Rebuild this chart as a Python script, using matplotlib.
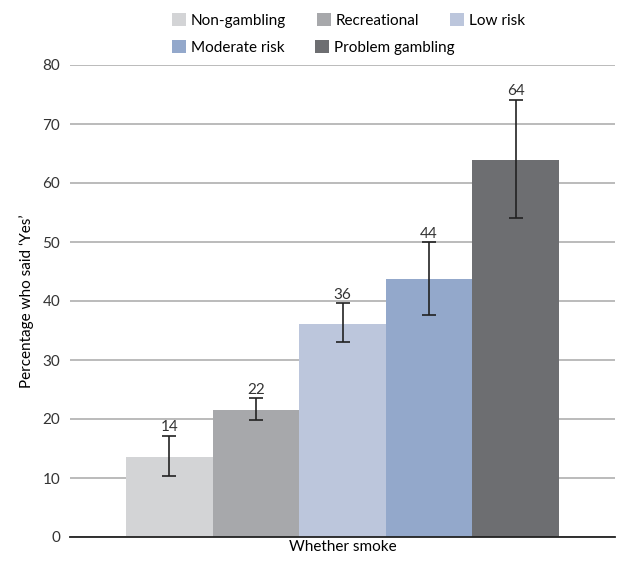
import matplotlib
matplotlib.use('Agg')
import matplotlib.pyplot as plt
import numpy as np

plt.rcParams['font.family'] = ['Lato', 'DejaVu Sans']

# Dados
grupos = ['Non-gambling', 'Recreational', 'Low risk', 'Moderate risk', 'Problem gambling']
valores = [13.6, 21.5, 36.1, 43.7, 63.9]
erro_baixo = [10.3, 19.9, 33.0, 37.6, 54.1]
erro_alto = [17.2, 23.5, 39.6, 50.0, 74.1]
rotulos = ['14', '22', '36', '44', '64']
cores = ['#d3d4d6', '#a7a8ab', '#bcc6dc', '#93a8cb', '#6d6e71']

fig = plt.figure(figsize=(6.24, 5.61), dpi=100)
ax = fig.add_axes([70 / 624, 1 - 537 / 561, 545 / 624, (537 - 65) / 561])

x = np.arange(len(grupos))
barras = ax.bar(x, valores, width=1.0, color=cores, label=grupos, zorder=2)

yerr = [np.array(valores) - np.array(erro_baixo), np.array(erro_alto) - np.array(valores)]
ax.errorbar(x, valores, yerr=yerr, fmt='none', ecolor='#222222', elinewidth=1.2,
            capsize=5, capthick=1.2, zorder=3)

for xi, topo, txt in zip(x, erro_alto, rotulos):
    ax.annotate(txt, (xi, topo), xytext=(0, 1), textcoords='offset points',
                ha='center', va='bottom', fontsize=11, color='#333333')

ax.set_xlim(-0.5 - 0.645, 4.5 + 0.645)
ax.set_ylim(0, 80)
ax.set_yticks(range(0, 81, 10))
ax.set_xticks([])
ax.grid(axis='y', color='#b5b5b5', linewidth=1.3, zorder=0)
ax.set_axisbelow(True)
for s in ['top', 'right', 'left']:
    ax.spines[s].set_visible(False)
ax.spines['bottom'].set_color('#222222')
ax.spines['bottom'].set_linewidth(1.3)
ax.spines['bottom'].set_zorder(4)
ax.tick_params(axis='y', length=0, pad=7, labelsize=11, labelcolor='#333333')

ax.set_ylabel('Percentage who said ‘Yes’', fontsize=11, labelpad=6)
ax.set_xlabel('Whether smoke', fontsize=11, labelpad=2)

# legenda em duas linhas (3 + 2 itens), cada uma como legenda própria
opts = dict(loc='upper left', frameon=False, fontsize=11, handlelength=0.9,
            handleheight=0.9, handletextpad=0.35, columnspacing=2.0,
            borderpad=0, borderaxespad=0)
fig.legend(barras[:3], grupos[:3], ncol=3,
           bbox_to_anchor=(172 / 624, 1 - 13 / 561), **opts)
fig.legend(barras[3:], grupos[3:], ncol=2,
           bbox_to_anchor=(172 / 624, 1 - 40 / 561), **opts)

fig.savefig('out.png', dpi=100)
